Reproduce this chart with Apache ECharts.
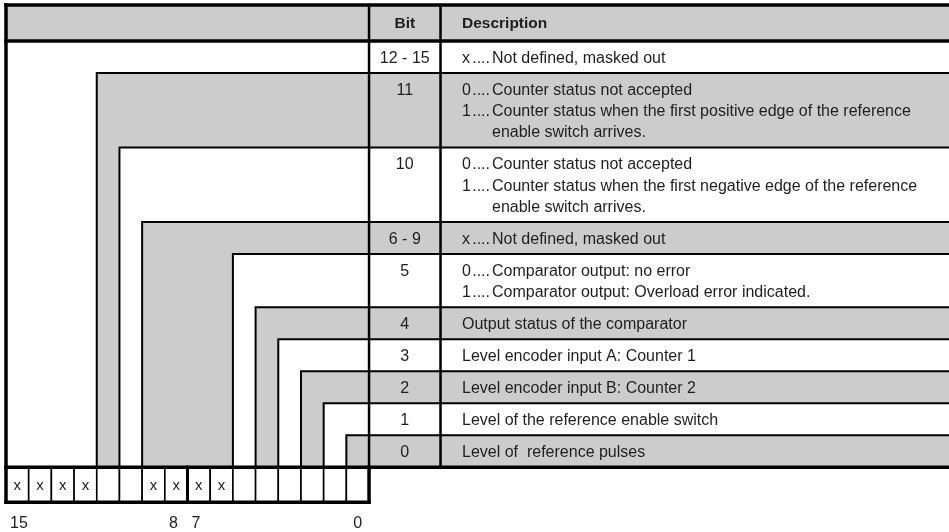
<!DOCTYPE html>
<html>
<head>
<meta charset="utf-8">
<script src="https://cdn.jsdelivr.net/npm/echarts@6/dist/echarts.min.js"></script>
<style>
html,body{margin:0;padding:0;background:#fff;}
#chart{width:949px;height:532px;}
</style>
</head>
<body>
<div id="chart"></div>
<script>
// ---------------- data ----------------
const headerLabels = ['Bit', 'Description'];
const bitRanges = ['12 - 15', '11', '10', '6 - 9', '5', '4', '3', '2', '1', '0'];
const rowStartBit = [15, 11, 10, 9, 5, 4, 3, 2, 1, 0];
const rowShaded = [false, true, false, true, false, true, false, true, false, true];
const rowDescriptions = [
  [['x', 'Not defined, masked out']],
  [['0', 'Counter status not accepted'],
   ['1', 'Counter status when the first positive edge of the reference'],
   ['', 'enable switch arrives.']],
  [['0', 'Counter status not accepted'],
   ['1', 'Counter status when the first negative edge of the reference'],
   ['', 'enable switch arrives.']],
  [['x', 'Not defined, masked out']],
  [['0', 'Comparator output: no error'],
   ['1', 'Comparator output: Overload error indicated.']],
  [['', 'Output status of the comparator']],
  [['', 'Level encoder input A: Counter 1']],
  [['', 'Level encoder input B: Counter 2']],
  [['', 'Level of the reference enable switch']],
  [['', 'Level of  reference pulses']]
];
const registerBits = [15, 14, 13, 12, 11, 10, 9, 8, 7, 6, 5, 4, 3, 2, 1, 0];
const registerMarks = ['x', 'x', 'x', 'x', '', '', 'x', 'x', 'x', 'x', '', '', '', '', '', ''];
const tickBits = [15, 8, 7, 0];
const tickLabels = ['15', '8', '7', '0'];

// ---------------- layout (styles / sizes) ----------------
const GRAY = '#cccccc';
const INK = '#1e1e1e';
const CELL = 22.69;           // px per bit cell
const GRID_LEFT = 6;
const toUnits = px => (px - GRID_LEFT) / CELL;
const X_MAX = toUnits(949);
const X_END = toUnits(990);   // beyond the right edge (table is cut off)
const COL_BIT = 16;           // left edge of "Bit" column
const COL_DESC = toUnits(440.5);
const X_BIT_MID = (COL_BIT + COL_DESC) / 2;
const X_PREFIX = toUnits(462);
const X_DOTS_END = toUnits(490);
const X_TEXT = toUnits(492);
const HEADER_TOP = 5, HEADER_H = 36, ROW_H1 = 32, LINE_H = 21.25, BOX_H = 35;
const FONT = '16px "Liberation Sans", Arial, sans-serif';
const FONT_B = 'bold 15.5px "Liberation Sans", Arial, sans-serif';

const bitLeft = b => 15 - b;
const rowTops = [];
let yy = HEADER_TOP + HEADER_H;
rowDescriptions.forEach(d => { rowTops.push(yy); yy += ROW_H1 + LINE_H * (d.length - 1); });
const TABLE_BOTTOM = yy;
const BOX_BOTTOM = TABLE_BOTTOM + BOX_H;

function txt(x, y, text, opt) {
  opt = opt || {};
  return {
    type: 'text',
    style: {
      x: x, y: y, text: text, font: opt.font || FONT, fill: INK,
      textAlign: opt.align || 'left', align: opt.align || 'left',
      textVerticalAlign: 'middle', verticalAlign: 'middle'
    }
  };
}

// ---------------- series ----------------
// 1. nested L-shaped regions (painter's order)
const regionData = [[0, HEADER_TOP, 1]].concat(
  rowStartBit.map((b, i) => [bitLeft(b), rowTops[i], rowShaded[i] ? 1 : 0])
);

const regionSeries = {
  type: 'custom', z: 1, silent: true, clip: false,
  data: regionData,
  renderItem: function (params, api) {
    const p1 = api.coord([api.value(0), api.value(1)]);
    const p2 = api.coord([X_END, TABLE_BOTTOM]);
    return {
      type: 'rect',
      shape: { x: p1[0], y: p1[1], width: p2[0] - p1[0], height: p2[1] - p1[1] },
      style: { fill: api.value(2) ? GRAY : '#ffffff', stroke: '#000', lineWidth: 2 }
    };
  }
};

// 2. register boxes
const boxSeries = {
  type: 'custom', z: 2, silent: true, clip: false,
  data: registerBits.map((b, i) => [bitLeft(b), i]),
  renderItem: function (params, api) {
    const i = api.value(1);
    const x0 = api.value(0);
    const p1 = api.coord([x0, TABLE_BOTTOM]);
    const p2 = api.coord([x0 + 1, BOX_BOTTOM]);
    const mid = api.coord([x0 + 0.5, (TABLE_BOTTOM + BOX_BOTTOM) / 2]);
    const children = [{
      type: 'rect',
      shape: { x: p1[0], y: p1[1], width: p2[0] - p1[0], height: p2[1] - p1[1] },
      style: { fill: '#fff', stroke: '#000', lineWidth: 1.6 }
    }];
    if (registerMarks[i]) children.push(txt(mid[0], mid[1] + 1, registerMarks[i], { align: 'center', font: '15px "Liberation Sans", Arial, sans-serif' }));
    return { type: 'group', children: children };
  }
};

// 3. heavy frame lines
const frameLines = [
  // [x1, y1, x2, y2, width]
  [0, HEADER_TOP, X_END, HEADER_TOP, 3.5],
  [0, HEADER_TOP + HEADER_H, X_END, HEADER_TOP + HEADER_H, 3.5],
  [COL_BIT, HEADER_TOP, COL_BIT, TABLE_BOTTOM, 2.5],
  [COL_DESC, HEADER_TOP, COL_DESC, TABLE_BOTTOM, 2.5],
  [0, TABLE_BOTTOM, X_END, TABLE_BOTTOM, 3.5],
  [0, BOX_BOTTOM, 16, BOX_BOTTOM, 3.5],
  [0, HEADER_TOP, 0, BOX_BOTTOM, 3.5],
  [16, TABLE_BOTTOM, 16, BOX_BOTTOM, 3.5],
  [bitLeft(7), TABLE_BOTTOM, bitLeft(7), BOX_BOTTOM, 3]
];
const frameSeries = {
  type: 'custom', z: 3, silent: true, clip: false,
  data: frameLines,
  renderItem: function (params, api) {
    const a = api.coord([api.value(0), api.value(1)]);
    const b = api.coord([api.value(2), api.value(3)]);
    return {
      type: 'line',
      shape: { x1: a[0], y1: a[1], x2: b[0], y2: b[1] },
      style: { stroke: '#000', lineWidth: api.value(4), lineCap: 'square' }
    };
  }
};

// 4. texts
const textSeries = {
  type: 'custom', z: 4, silent: true, clip: false,
  data: bitRanges.map((r, i) => [i]),
  renderItem: function (params, api) {
    const i = api.value(0);
    const top = rowTops[i];
    const children = [];
    const firstY = top + 17.5;
    const pb = api.coord([X_BIT_MID, firstY]);
    children.push(txt(pb[0], pb[1], bitRanges[i], { align: 'center' }));
    rowDescriptions[i].forEach((ln, k) => {
      const y = firstY + k * LINE_H;
      const pre = ln[0];
      if (pre) {
        const pp = api.coord([X_PREFIX, y]);
        children.push(txt(pp[0], pp[1], pre));
        const pd = api.coord([X_DOTS_END, y]);
        children.push(txt(pd[0], pd[1], '....', { align: 'right' }));
        const pt = api.coord([X_TEXT, y]);
        children.push(txt(pt[0], pt[1], ln[1]));
      } else if (k > 0) {
        const pt = api.coord([X_TEXT, y]);
        children.push(txt(pt[0], pt[1], ln[1]));
      } else {
        const pt = api.coord([X_PREFIX, y]);
        children.push(txt(pt[0], pt[1], ln[1]));
      }
    });
    if (i === 0) {
      const hy = HEADER_TOP + HEADER_H / 2 + 1;
      const h1 = api.coord([X_BIT_MID, hy]);
      children.push(txt(h1[0], h1[1], headerLabels[0], { align: 'center', font: FONT_B }));
      const h2 = api.coord([X_PREFIX, hy]);
      children.push(txt(h2[0], h2[1], headerLabels[1], { font: FONT_B }));
      tickBits.forEach((b, k) => {
        const pt = api.coord([bitLeft(b) + (b === 0 ? 0.3 : 0.18), BOX_BOTTOM + 21]);
        children.push(txt(pt[0], pt[1], tickLabels[k]));
      });
    }
    return { type: 'group', children: children };
  }
};

const chart = echarts.init(document.getElementById('chart'), null, { renderer: 'canvas' });
chart.setOption({
  animation: false,
  backgroundColor: '#ffffff',
  grid: { left: GRID_LEFT, right: 0, top: 0, bottom: 0 },
  xAxis: { type: 'value', min: 0, max: X_MAX, show: false },
  yAxis: { type: 'value', min: 0, max: 532, inverse: true, show: false },
  series: [regionSeries, boxSeries, frameSeries, textSeries]
});
</script>
</body>
</html>
